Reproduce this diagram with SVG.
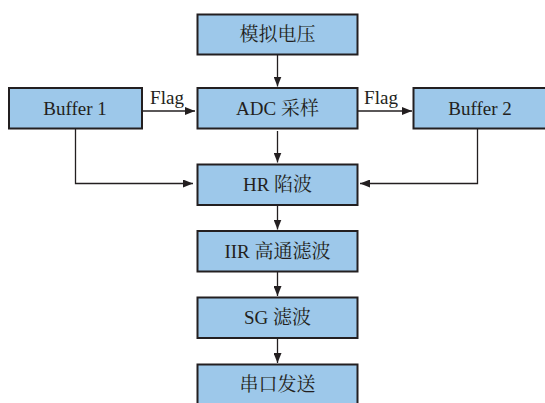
<svg xmlns="http://www.w3.org/2000/svg" width="545" height="403" viewBox="0 0 545 403">
<style>
.box{fill:#9DC8EA;stroke:#231F20;stroke-width:2}
.t{font-family:"Liberation Serif","Noto Serif CJK SC","Noto Sans CJK SC",serif;font-size:19px;fill:#231F20;text-anchor:middle}
.c{fill:none;stroke:#231F20;stroke-width:1.3}
</style>
<defs>
<marker id="ah" viewBox="0 0 10 8" refX="10" refY="4" markerWidth="10" markerHeight="8" markerUnits="userSpaceOnUse" orient="auto">
<path d="M0,0 L10,4 L0,8 z" fill="#231F20"/>
</marker>
</defs>
<rect width="545" height="403" fill="#ffffff"/>
<g id="connectors">
<line class="c" x1="277.5" y1="55" x2="277.5" y2="86.5" marker-end="url(#ah)"/>
<line class="c" x1="142" y1="111" x2="195" y2="111" marker-end="url(#ah)"/>
<line class="c" x1="358" y1="111" x2="412" y2="111" marker-end="url(#ah)"/>
<line class="c" x1="277.5" y1="131" x2="277.5" y2="162.5" marker-end="url(#ah)"/>
<polyline class="c" points="75.5,129 75.5,183.5 193,183.5" marker-end="url(#ah)"/>
<polyline class="c" points="477.5,129 477.5,183.5 360,183.5" marker-end="url(#ah)"/>
<line class="c" x1="277.5" y1="205" x2="277.5" y2="229.5" marker-end="url(#ah)"/>
<line class="c" x1="277.5" y1="272" x2="277.5" y2="296" marker-end="url(#ah)"/>
<line class="c" x1="277.5" y1="339" x2="277.5" y2="363" marker-end="url(#ah)"/>
<text class="t" x="167" y="103.5">Flag</text>
<text class="t" x="381" y="103.5">Flag</text>
</g>
<g id="n-voltage"><rect class="box" x="197.5" y="14.5" width="160" height="40"/><text class="t" x="277.5" y="41">模拟电压</text></g>
<g id="n-adc"><rect class="box" x="197.5" y="88" width="160" height="40.5"/><text class="t" x="277.5" y="114.5">ADC 采样</text></g>
<g id="n-buf1"><rect class="box" x="9" y="88" width="133" height="40.5"/><text class="t" x="75" y="114.5">Buffer 1</text></g>
<g id="n-buf2"><rect class="box" x="413.5" y="88" width="134" height="40.5"/><text class="t" x="480" y="114.5">Buffer 2</text></g>
<g id="n-hr"><rect class="box" x="197.5" y="164.5" width="160" height="40.5"/><text class="t" x="277.5" y="191">HR 陷波</text></g>
<g id="n-iir"><rect class="box" x="197.5" y="231" width="160" height="40.5"/><text class="t" x="277.5" y="257.5">IIR 高通滤波</text></g>
<g id="n-sg"><rect class="box" x="197.5" y="297.5" width="160" height="40.5"/><text class="t" x="277.5" y="324">SG 滤波</text></g>
<g id="n-uart"><rect class="box" x="197.5" y="364.5" width="160" height="41"/><text class="t" x="277.5" y="391">串口发送</text></g>
</svg>
